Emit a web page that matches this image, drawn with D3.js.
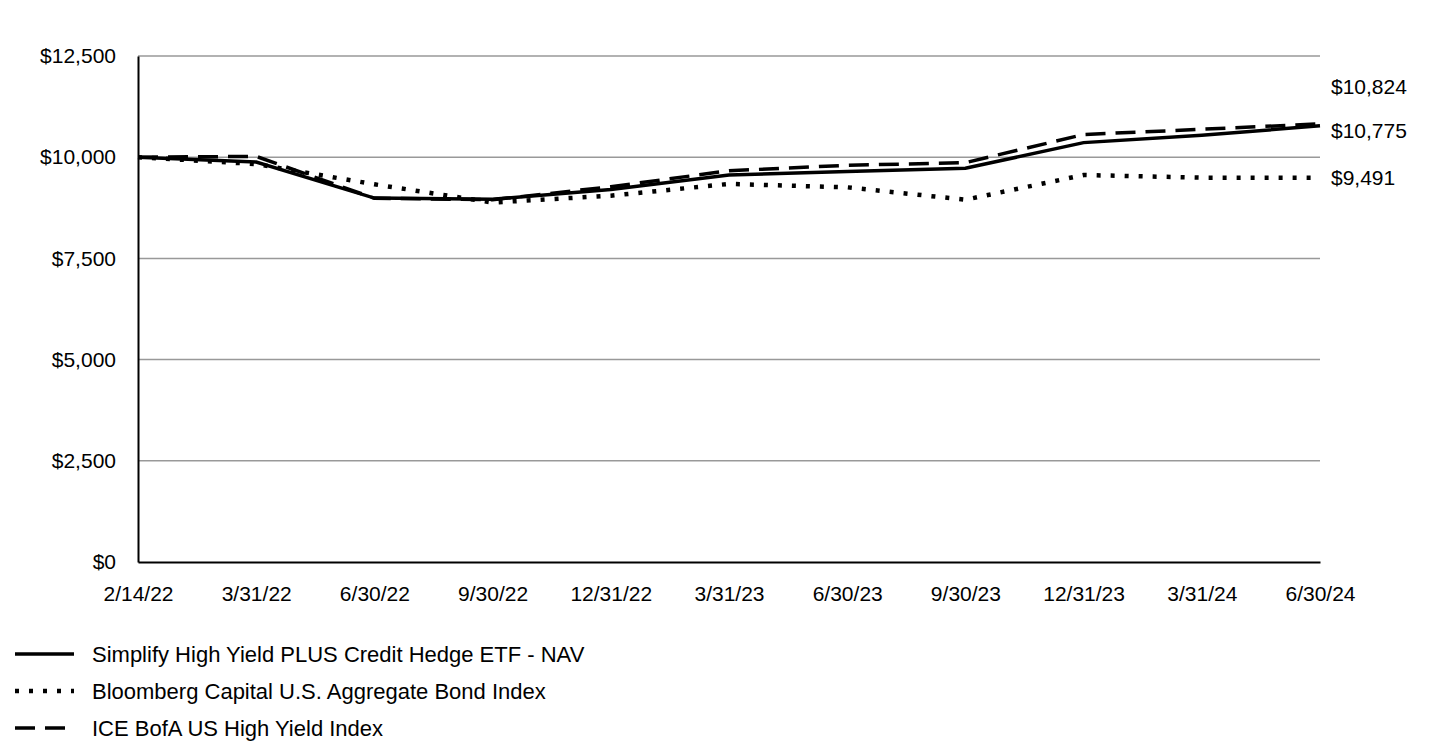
<!DOCTYPE html>
<html><head><meta charset="utf-8">
<script src="https://cdn.jsdelivr.net/npm/d3@7"></script>
<style>body{margin:0;background:#fff}svg text{font-family:"Liberation Sans",Arial,sans-serif;fill:#000}</style>
</head><body><svg id="c" width="1440" height="744"></svg>
<script>
const categories = ["2/14/22","3/31/22","6/30/22","9/30/22","12/31/22","3/31/23","6/30/23","9/30/23","12/31/23","3/31/24","6/30/24"];
const navValues = [10000, 9880, 8990, 8960, 9200, 9560, 9645, 9725, 10360, 10540, 10775];
const aggValues = [10000, 9830, 9330, 8880, 9050, 9340, 9256, 8950, 9560, 9495, 9491];
const hyValues  = [10000, 10020, 8985, 8950, 9270, 9665, 9800, 9865, 10560, 10690, 10824];
const yTicks = [0, 2500, 5000, 7500, 10000, 12500];
const seriesNames = ["Simplify High Yield PLUS Credit Hedge ETF - NAV","Bloomberg Capital U.S. Aggregate Bond Index","ICE BofA US High Yield Index"];
const endLabels = ["$10,824","$10,775","$9,491"];

const svg = d3.select("#c");
const L = 138, R = 1320, T = 56, B = 562;
const x = d3.scalePoint().domain(categories).range([L, R]);
const y = d3.scaleLinear().domain([0, 12500]).range([B, T]);
const fmt = v => "$" + d3.format(",")(v);

// gridlines
svg.append("g").selectAll("line").data(yTicks.filter(d => d > 0)).join("line")
  .attr("x1", L).attr("x2", R).attr("y1", d => y(d)).attr("y2", d => y(d))
  .attr("stroke", "#999").attr("stroke-width", 1.5);

// y axis
const ya = svg.append("g").attr("transform", `translate(${L},0)`)
  .call(d3.axisLeft(y).tickValues(yTicks).tickFormat(fmt).tickSize(0).tickPadding(22));
ya.select(".domain").attr("stroke", "#000").attr("stroke-width", 2);
ya.selectAll("text").attr("font-size", 21).attr("font-family", "Liberation Sans, Arial, sans-serif");

// x axis
const xa = svg.append("g").attr("transform", `translate(0,${B})`)
  .call(d3.axisBottom(x).tickSize(0).tickPadding(24));
xa.select(".domain").attr("stroke", "#000").attr("stroke-width", 2);
xa.selectAll("text").attr("font-size", 21).attr("font-family", "Liberation Sans, Arial, sans-serif");

const styles = [
  {data: navValues, dash: null, w: 3.5},
  {data: aggValues, dash: "4,10", w: 4.5},
  {data: hyValues, dash: "20,10", w: 3.5}
];
const line = d3.line().x((d, i) => x(categories[i])).y(d => y(d));
styles.forEach(s => {
  svg.append("path").datum(s.data).attr("d", line)
    .attr("fill", "none").attr("stroke", "#000").attr("stroke-width", s.w)
    .attr("stroke-dasharray", s.dash);
});

// end labels
const endY = [87, 131, 178];
endLabels.forEach((t, i) => {
  svg.append("text").attr("x", 1331).attr("y", endY[i]).attr("dy", "0.35em")
    .attr("font-size", 21).text(t);
});

// legend
const legY = [654, 691, 728];
const legEnd = [74, 74, 66];
seriesNames.forEach((n, i) => {
  svg.append("line").attr("x1", 15).attr("x2", legEnd[i]).attr("y1", legY[i]).attr("y2", legY[i])
    .attr("stroke", "#000").attr("stroke-width", styles[i].w).attr("stroke-dasharray", styles[i].dash);
  svg.append("text").attr("x", 92).attr("y", legY[i]).attr("dy", "0.35em")
    .attr("font-size", 22).text(n);
});
</script></body></html>
